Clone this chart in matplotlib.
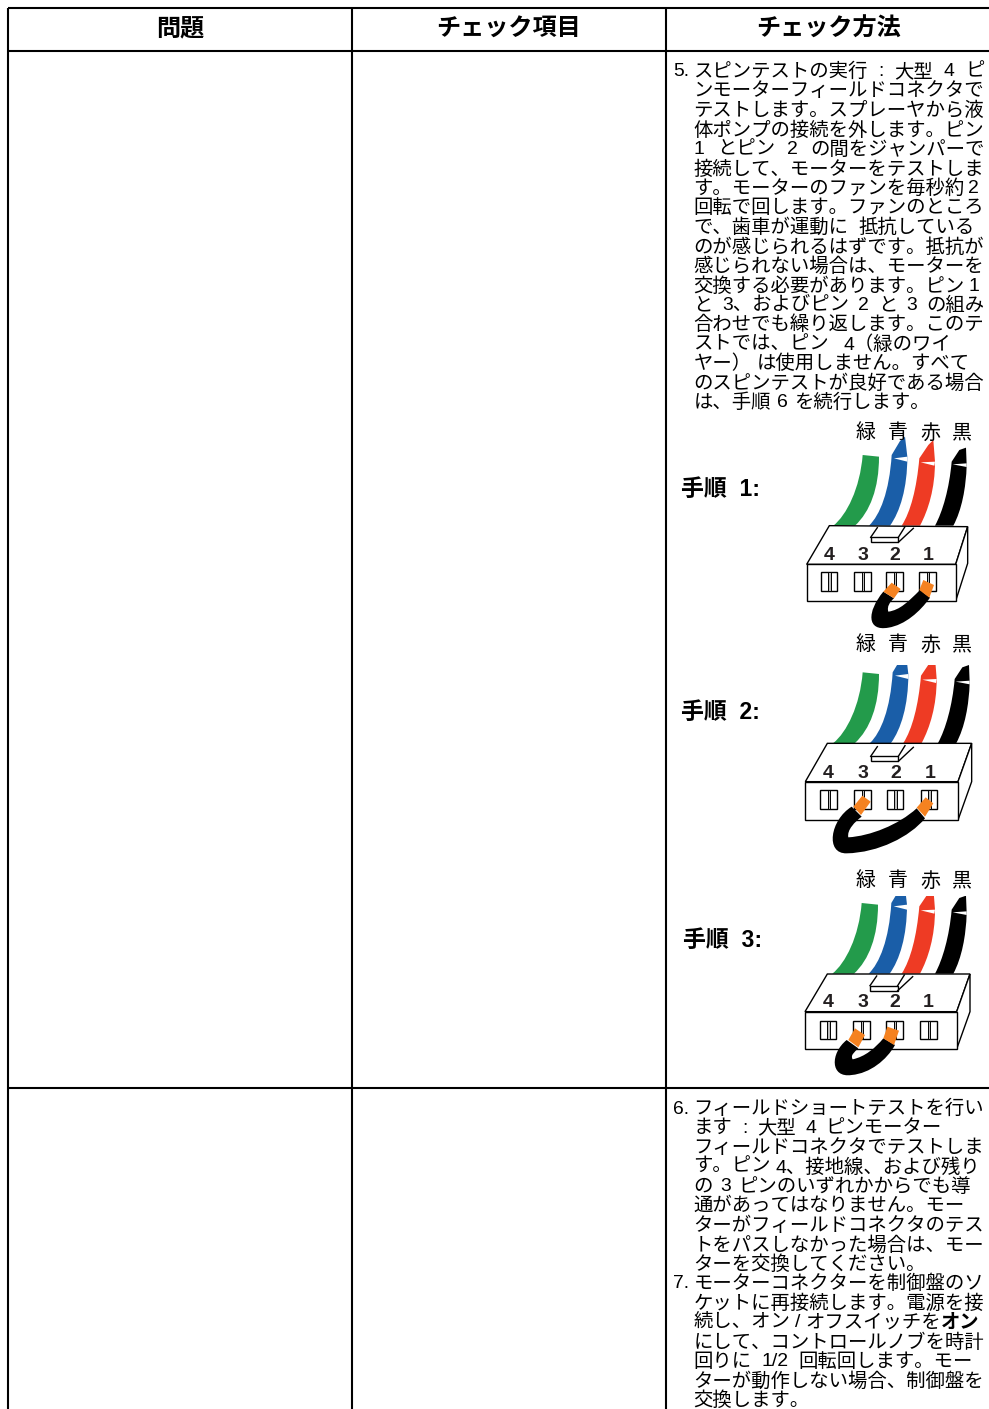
import matplotlib
matplotlib.use("Agg")
import matplotlib.pyplot as plt
from matplotlib.patches import PathPatch, Polygon, Rectangle
from matplotlib.path import Path

W, H = 989, 1409
FONT = ["Liberation Sans", "Noto Sans CJK JP"]

HEADERS = ["問題", "チェック項目", "チェック方法"]
HEADER_X = [180, 509, 829]

STEP5_NUM = "5."
STEP5_LINES = [
    "スピンテストの実行 : 大型 4 ピ",
    "ンモーターフィールドコネクタで",
    "テストします。スプレーヤから液",
    "体ポンプの接続を外します。ピン",
    "1 とピン 2 の間をジャンパーで",
    "接続して、モーターをテストしま",
    "す。モーターのファンを毎秒約 2",
    "回転で回します。ファンのところ",
    "で、歯車が運動に 抵抗している",
    "のが感じられるはずです。抵抗が",
    "感じられない場合は、モーターを",
    "交換する必要があります。ピン 1",
    "と 3、およびピン 2 と 3 の組み",
    "合わせでも繰り返します。このテ",
    "ストでは、ピン 4（緑のワイ",
    "ヤー） は使用しません。すべて",
    "のスピンテストが良好である場合",
    "は、手順 6 を続行します。",
]
STEP6_LINES = [
    "フィールドショートテストを行い",
    "ます : 大型 4 ピンモーター",
    "フィールドコネクタでテストしま",
    "す。ピン 4、接地線、および残り",
    "の 3 ピンのいずれかからでも導",
    "通があってはなりません。モー",
    "ターがフィールドコネクタのテス",
    "トをパスしなかった場合は、モー",
    "ターを交換してください。",
]
STEP7_LINES = [
    "モーターコネクターを制御盤のソ",
    "ケットに再接続します。電源を接",
    "続し、オン / オフスイッチを",
    "にして、コントロールノブを時計",
    "回りに 1/2 回転回します。モー",
    "ターが動作しない場合、制御盤を",
    "交換します。",
]
# lines that stop short of the right edge in the picture, with their right end
SHORT_LINES = {
    "ストでは、ピン 4（緑のワイ": 951,
    "は、手順 6 を続行します。": 930,
    "ます : 大型 4 ピンモーター": 942,
    "続し、オン / オフスイッチを": 941,
    "ヤー） は使用しません。すべて": 970,
    "で、歯車が運動に 抵抗している": 975,
    "回りに 1/2 回転回します。モー": 973,
    "す。モーターのファンを毎秒約 2": 979,
    "交換する必要があります。ピン 1": 979,
    "す。ピン 4、接地線、および残り": 980,
    "の 3 ピンのいずれかからでも導": 971,
}

STEP_LABELS = ["手順  1:", "手順  2:", "手順  3:"]
STEP_LABEL_Y = [489, 712, 940]
STEP_LABEL_X = [681, 681, 683]
WIRE_NAMES = ["緑", "青", "赤", "黒"]
WIRE_NAME_X = [866, 898, 930, 962]
WIRE_NAME_Y = [433, 645, 881]
PIN_NAMES = ["4", "3", "2", "1"]

GREEN = "#239b4b"
BLUE = "#1a5ea8"
RED = "#ee3b24"
ORANGE = "#f58220"
WIRE_COLORS = [GREEN, BLUE, RED, "black"]

# connector panels, in 3x units of a crop starting at the origin below
ORIGINS = [(670, 415), (670, 630), (670, 860)]
FRONT = [(410, 448, 857, 558), (406, 455, 864, 570), (405, 455, 860, 567)]
BACK = [(478, 332, 893, 335), (472, 340, 905, 340), (472, 342, 900, 342)]
RIGHT_LOW = [445, 455, 455]
SOCKET_X = [(452, 552, 648, 748), (450, 552, 650, 752), (449, 549, 648, 750)]
SOCKET_Y = [(472, 528), (480, 538), (482, 537)]
PIN_X = [(478, 580, 675, 775), (474, 580, 677, 780), (474, 578, 673, 775)]
PIN_Y = [423, 431, 427]
LATCH_DX = [0, 0, -2]
LATCH_DY = [0, 12, 10]
WIRE_DX = [(0, 0, 0, 0), (0, 3, 5, 9), (-3, -1, 0, 0)]
WIRE_DY = [0, 7, 9]
WIRE_TOP = [None, 105, 108]

GREEN_WIRE = [(490, 332), (530, 300), (570, 220), (578, 120), (627, 125),
              (627, 220), (600, 290), (555, 332)]
BLUE_WIRE = [(597, 332), (630, 300), (658, 230), (665, 120), (690, 78), (705, 65),
             (712, 125), (712, 220), (690, 290), (660, 332)]
RED_WIRE = [(695, 332), (722, 290), (740, 220), (748, 130), (775, 90), (790, 75),
            (795, 140), (795, 220), (775, 285), (750, 332)]
BLACK_WIRE = [(795, 332), (818, 290), (838, 220), (845, 140), (868, 105), (888, 98),
              (890, 150), (888, 220), (875, 285), (850, 332)]
WIRES = [GREEN_WIRE, BLUE_WIRE, RED_WIRE, BLACK_WIRE]
SLIVERS = [None, [(672, 130), (712, 125), (712, 140)],
           [(752, 142), (795, 140), (793, 152)],
           [(848, 148), (890, 145), (890, 156)]]

JUMPERS = [
    [(640, 530), (590, 590), (590, 650), (655, 638), (705, 630), (750, 590), (780, 548),
     (750, 525), (715, 560), (690, 585), (655, 590), (650, 575), (660, 560), (672, 550)],
    [(545, 530), (480, 570), (465, 672), (530, 670), (625, 668), (720, 620), (765, 565),
     (740, 535), (685, 585), (600, 618), (535, 622), (530, 600), (555, 575), (575, 560)],
    [(530, 540), (480, 580), (480, 655), (545, 645), (600, 640), (650, 600), (675, 555),
     (640, 535), (615, 565), (585, 590), (548, 598), (540, 585), (555, 575), (565, 565)],
]
TIPS = [
    [[(640, 530), (665, 503), (692, 522), (672, 550)],
     [(748, 525), (760, 495), (792, 510), (778, 548)]],
    [[(550, 530), (577, 497), (602, 515), (573, 555)],
     [(740, 533), (767, 502), (790, 520), (765, 560)]],
    [[(535, 540), (555, 505), (585, 525), (565, 562)],
     [(640, 535), (652, 500), (687, 512), (672, 555)]],
]

fig = plt.figure(figsize=(W / 100, H / 100), dpi=100)
ax = fig.add_axes([0, 0, 1, 1])
ax.set_xlim(0, W)
ax.set_ylim(H, 0)
ax.axis("off")
renderer = fig.canvas.get_renderer()


def put_line(x, y, s, right=None, size=13.95):
    """Draw one body line; the gaps at spaces take up what is left to `right`."""
    parts = s.split(" ")
    pieces = [ax.text(x, y, p, family=FONT, fontsize=size, va="center", ha="left",
                      color="black") for p in parts]
    widths = [p.get_window_extent(renderer).width for p in pieces]
    gaps = len(parts) - 1
    gap = 6.0
    if right is not None and gaps:
        gap = max((right - x - sum(widths)) / gaps, 3.0)
    cur = x
    for p, w in zip(pieces, widths):
        p.set_x(cur)
        cur += w + gap


def put_block(lines, y0, first_num=None):
    if first_num:
        ax.text(673, y0, first_num, family=FONT, fontsize=13.9, va="center", color="black")
    for i, s in enumerate(lines):
        put_line(693.5, y0 + i * 19.47, s, right=SHORT_LINES.get(s, 984.5))


def curve_patch(pts, **kw):
    """Closed outline: curves of three points with straight corners in between."""
    codes = [Path.MOVETO]
    n = len(pts)
    if n == 8:
        codes += [Path.CURVE4] * 3 + [Path.LINETO] + [Path.CURVE4] * 3
    elif n == 10:
        codes += [Path.CURVE4] * 3 + [Path.LINETO] * 3 + [Path.CURVE4] * 3
    else:
        codes += [Path.CURVE4] * 6 + [Path.LINETO] + [Path.CURVE4] * 6
    codes += [Path.CLOSEPOLY]
    return PathPatch(Path(list(pts) + [pts[0]], codes), lw=0, **kw)


def draw_panel(k):
    ox, oy = ORIGINS[k]

    def to_px(pts, dx=0, dy=0):
        return [(ox + (px + dx) / 3, oy + (py + dy) / 3) for px, py in pts]

    # wires
    for j, wire in enumerate(WIRES):
        dx = WIRE_DX[k][j]
        dy = WIRE_DY[k]
        patch = curve_patch(to_px(wire, dx, dy), facecolor=WIRE_COLORS[j], zorder=2)
        ax.add_patch(patch)
        if WIRE_TOP[k] is not None:
            clip = Rectangle((ox, oy + WIRE_TOP[k] / 3), 319, 200, transform=ax.transData)
            patch.set_clip_path(clip)
        if SLIVERS[j]:
            ax.add_patch(Polygon(to_px(SLIVERS[j], dx, dy), closed=True, fc="white", lw=0, zorder=3))

    # connector body
    fx0, fy0, fx1, fy1 = FRONT[k]
    bx0, by0, bx1, by1 = BACK[k]
    style = dict(closed=True, fc="white", ec="black", lw=1.0, joinstyle="miter")
    ax.add_patch(Polygon(to_px([(fx0, fy0), (bx0, by0), (bx1, by1), (fx1, fy0)]), zorder=4, **style))
    ax.add_patch(Polygon(to_px([(fx1, fy0), (bx1, by1), (bx1, RIGHT_LOW[k]), (fx1, fy1)]), zorder=4, **style))
    ax.add_patch(Polygon(to_px([(fx0, fy0), (fx1, fy0), (fx1, fy1), (fx0, fy1)]), zorder=4, **style))

    # latch on top
    dx, dy = LATCH_DX[k], LATCH_DY[k]
    ax.add_patch(Polygon(to_px([(602, 367), (685, 367), (685, 382), (602, 382)], dx, dy),
                         zorder=5, **style))
    for seg in ([(602, 367), (622, 338)], [(685, 367), (705, 335)], [(685, 382), (730, 340)]):
        xs, ys = zip(*to_px(seg, dx, dy))
        ax.plot(xs, ys, color="black", lw=1.0, zorder=5)

    # pin sockets
    sy0, sy1 = SOCKET_Y[k]
    for sx in SOCKET_X[k]:
        ax.add_patch(Polygon(to_px([(sx, sy0), (sx + 50, sy0), (sx + 50, sy1), (sx, sy1)]),
                             zorder=5, **style))
        ax.add_patch(Polygon(to_px([(sx + 23, sy0), (sx + 30, sy0), (sx + 30, sy1), (sx + 23, sy1)]),
                             closed=True, fc="#bbbbbb", ec="black", lw=0.7, zorder=5))

    for sx, name in zip(PIN_X[k], PIN_NAMES):
        px, py = to_px([(sx, PIN_Y[k])])[0]
        ax.text(px, py, name, family=FONT, fontsize=14, fontweight="bold", ha="center",
                va="center", color="#231f20", zorder=6)

    # jumper
    ax.add_patch(curve_patch(to_px(JUMPERS[k]), facecolor="black", zorder=7))
    for tip in TIPS[k]:
        ax.add_patch(Polygon(to_px(tip), closed=True, fc=ORANGE, lw=0, zorder=8))


# table rules
for x in [8, 352, 666]:
    ax.plot([x, x], [8, H], color="black", lw=1.5, solid_capstyle="butt", zorder=9)
for y in [8, 51, 1088]:
    ax.plot([8, W], [y, y], color="black", lw=1.5, solid_capstyle="butt", zorder=9)

for x, s in zip(HEADER_X, HEADERS):
    ax.text(x, 29.5, s, family=FONT, fontsize=17.4, fontweight="bold", ha="center", va="center")

put_block(STEP5_LINES, 72, STEP5_NUM)
put_block(STEP6_LINES, 1109, "6.")
put_block(STEP7_LINES, 1284, "7.")
ax.text(941, 1323, "オン", family=FONT, fontsize=13.9, fontweight="bold", va="center")

for x, y, s in zip(STEP_LABEL_X, STEP_LABEL_Y, STEP_LABELS):
    ax.text(x, y, s, family=FONT, fontsize=16.5, fontweight="bold", va="center")

for y in WIRE_NAME_Y:
    for x, s in zip(WIRE_NAME_X, WIRE_NAMES):
        ax.text(x, y, s, family=FONT, fontsize=14.4, ha="center", va="center", color="black")

for k in range(3):
    draw_panel(k)

fig.savefig("out.png", dpi=100)
